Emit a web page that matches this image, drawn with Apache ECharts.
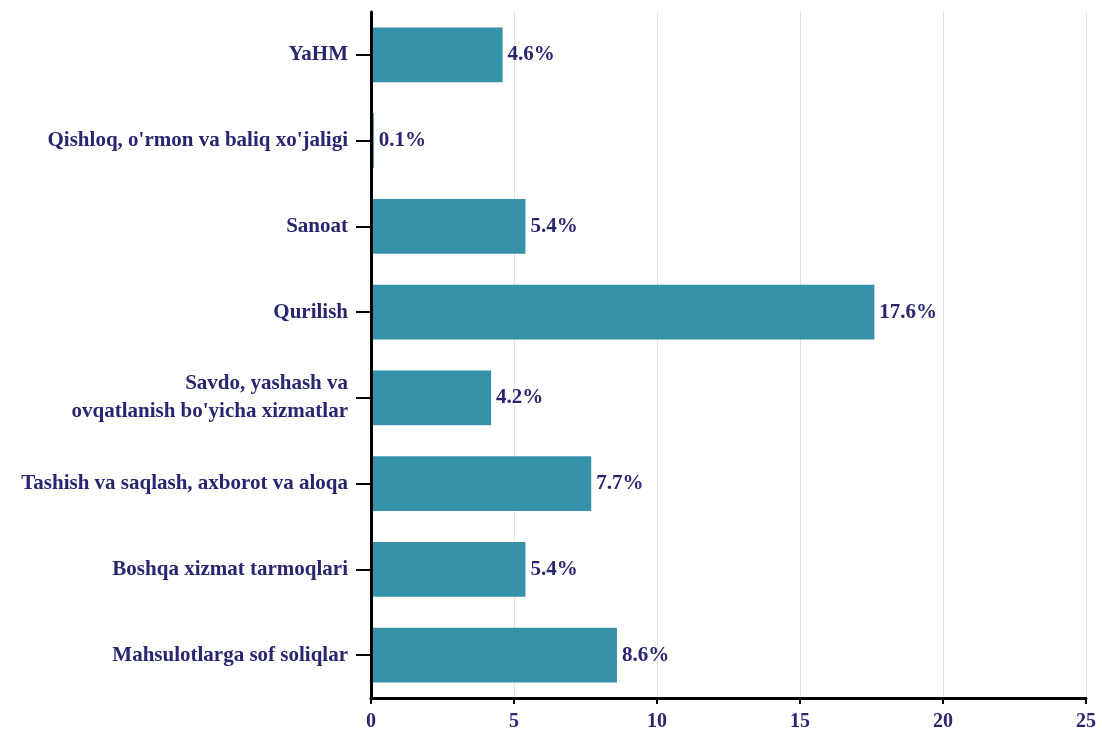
<!DOCTYPE html>
<html><head><meta charset="utf-8">
<script src="https://cdn.jsdelivr.net/npm/echarts@6/dist/echarts.min.js"></script>
<style>html,body{margin:0;padding:0;background:#fff}#c{width:1102px;height:735px}</style>
</head><body><div id="c"></div>
<script>
var categories = ["YaHM", "Qishloq, o'rmon va baliq xo'jaligi", "Sanoat", "Qurilish", "Savdo, yashash va\novqatlanish bo'yicha xizmatlar", "Tashish va saqlash, axborot va aloqa", "Boshqa xizmat tarmoqlari", "Mahsulotlarga sof soliqlar"];
var values = [4.6, 0.1, 5.4, 17.6, 4.2, 7.7, 5.4, 8.6];
var xTicks = [0, 5, 10, 15, 20, 25];

var txt = '#29256f';
var font = '"Liberation Serif", "Times New Roman", serif';
var chart = echarts.init(document.getElementById('c'), null, {renderer: 'canvas'});
chart.setOption({
  animation: false,
  grid: {left: 371, right: 16, top: 12, bottom: 37},
  xAxis: {
    type: 'value', min: xTicks[0], max: xTicks[xTicks.length - 1], interval: 5,
    axisLine: {show: true, lineStyle: {color: '#000', width: 3}},
    axisTick: {show: true, length: 6, lineStyle: {color: '#000', width: 2}},
    axisLabel: {color: txt, fontFamily: font, fontWeight: 'bold', fontSize: 20, margin: 14},
    splitLine: {show: true, lineStyle: {color: '#e3e3e3', width: 1}}
  },
  yAxis: {
    type: 'category', data: categories, inverse: true, z: 5,
    axisLine: {show: true, lineStyle: {color: '#000', width: 3}},
    axisTick: {show: true, alignWithLabel: true, length: 15, lineStyle: {color: '#000', width: 2}},
    axisLabel: {color: txt, fontFamily: font, fontWeight: 'bold', fontSize: 21, margin: 23, lineHeight: 28}
  },
  series: [{
    type: 'bar', data: values, barCategoryGap: '36%',
    itemStyle: {color: '#3592a8'},
    label: {show: true, position: 'right', distance: 5, color: txt, fontFamily: font, fontWeight: 'bold', fontSize: 21,
      formatter: function (p) { return p.value.toFixed(1) + '%'; }}
  }]
});
</script></body></html>
